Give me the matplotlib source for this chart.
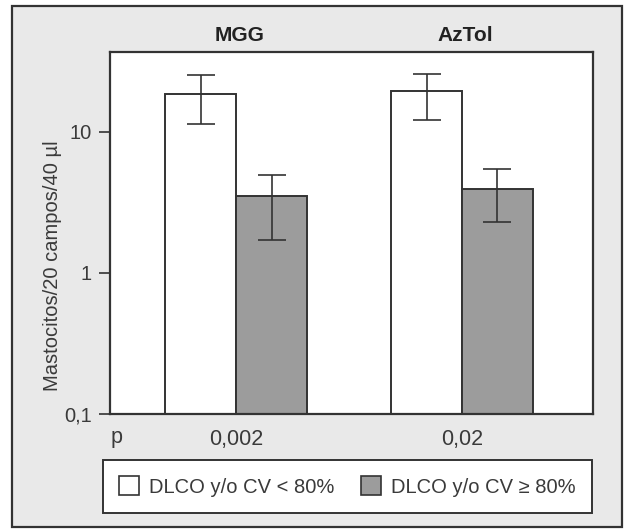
import numpy as np
import matplotlib.pyplot as plt
from matplotlib.patches import Rectangle, Patch
from matplotlib.transforms import blended_transform_factory

plt.rcParams['font.family'] = ['Liberation Sans', 'DejaVu Sans']

# values (log scale)
groups = ['MGG', 'AzTol']
p_values = ['0,002', '0,02']
low_mean = [18.6, 19.5]      # DLCO y/o CV < 80%
low_upper = [25.4, 25.8]
low_lower = [11.4, 12.2]
high_mean = [3.5, 3.95]      # DLCO y/o CV >= 80%
high_upper = [4.95, 5.45]
high_lower = [1.7, 2.3]
legend_labels = ['DLCO y/o CV < 80%', 'DLCO y/o CV \u2265 80%']

line_col = '#333333'
text_col = '#3a3a3a'
gray_fill = '#9c9c9c'

fig = plt.figure(figsize=(6.27, 5.29), dpi=100)
fig.patch.set_facecolor('white')

# outer frame with light gray background
fig.patches.append(Rectangle((12/627, 1-527/529), 610/627, 521/529,
                             transform=fig.transFigure, facecolor='#e9e9e9',
                             edgecolor=line_col, linewidth=1.6, zorder=-5))

ax = fig.add_axes([110/627, 1-414/529, 483/627, 362/529])
ax.set_facecolor('white')

x = np.arange(len(groups))
w = 0.314
low_err = [np.subtract(low_mean, low_lower), np.subtract(low_upper, low_mean)]
high_err = [np.subtract(high_mean, high_lower), np.subtract(high_upper, high_mean)]

ax.bar(x - w/2, low_mean, w, color='white', edgecolor=line_col, linewidth=1.4,
       yerr=low_err, capsize=10, error_kw=dict(ecolor=line_col, elinewidth=1.2, capthick=1.2))
ax.bar(x + w/2, high_mean, w, color=gray_fill, edgecolor=line_col, linewidth=1.4,
       yerr=high_err, capsize=10, error_kw=dict(ecolor=line_col, elinewidth=1.2, capthick=1.2))

ax.set_yscale('log')
ax.set_ylim(0.1, 36.9)
ax.set_xlim(-0.558, 1.58)
ax.set_yticks([0.1, 1, 10])
ax.set_yticklabels(['0,1', '1', '10'])
ax.minorticks_off()
ax.tick_params(axis='y', direction='out', length=8, width=1.2, color=line_col,
               labelsize=14.5, labelcolor=text_col, pad=5)
ax.set_xticks(x)
ax.set_xticklabels(p_values)
ax.tick_params(axis='x', length=0, labelsize=15.5, labelcolor=text_col, pad=11)
for s in ax.spines.values():
    s.set_color(line_col)
    s.set_linewidth(1.6)

ax.set_ylabel('Mastocitos/20 campos/40 \u00b5l', fontsize=14.5, color=text_col)
ax.yaxis.set_label_coords(-0.10, 0.41)

trans = blended_transform_factory(ax.transData, ax.transAxes)
for i, g in enumerate(groups):
    ax.text(i + 0.015, 1.045, g, transform=trans, ha='center', va='center',
            fontsize=15, fontweight='bold', color='#222222')

fig.text(117/627, 1-437/529, 'p', ha='center', va='center', fontsize=15.5, color=text_col)

handles = [Patch(facecolor='white', edgecolor=line_col, linewidth=1.2),
           Patch(facecolor=gray_fill, edgecolor=line_col, linewidth=1.2)]
leg = fig.legend(handles, legend_labels, loc='center', bbox_to_anchor=(347.5/627, 1-486.5/529),
                 ncol=2, fontsize=14.5, frameon=True, fancybox=False, handlelength=1.0,
                 handleheight=1.05, handletextpad=0.5, columnspacing=1.3, borderpad=0.8)
leg.get_frame().set_edgecolor(line_col)
leg.get_frame().set_linewidth(1.4)
leg.get_frame().set_alpha(1)
for t in leg.get_texts():
    t.set_color(text_col)

fig.savefig('out.png', dpi=100)
